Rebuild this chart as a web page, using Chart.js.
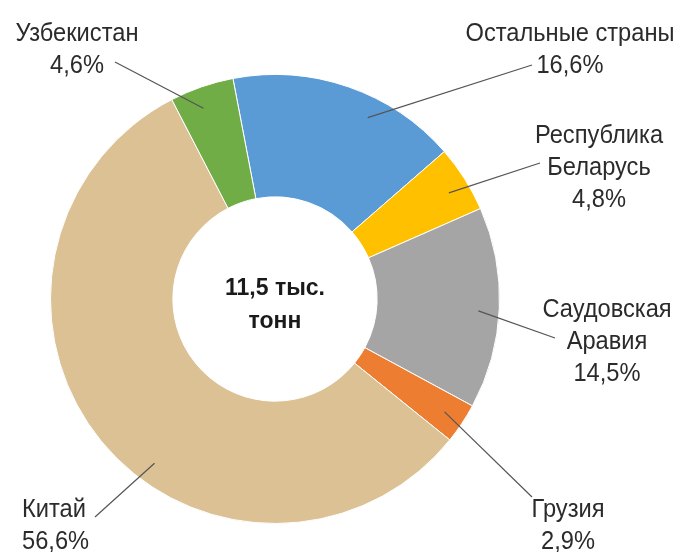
<!DOCTYPE html>
<html lang="ru">
<head>
    <meta charset="UTF-8">
    <title>Структура импорта</title>
    <script src="https://cdn.jsdelivr.net/npm/chart.js"></script>
    <style>
        html, body { margin: 0; padding: 0; background: #fff; }
        .my-box { width: 677px; height: 552px; }
    </style>
</head>
<body>
    <div class="my-box">
        <canvas id="importChart" width="677" height="552"></canvas>
    </div>
    <script>
    // данные (по часовой стрелке, начиная с верхнего сектора)
    const categories = ['Остальные страны', 'Республика\nБеларусь', 'Саудовская\nАравия', 'Грузия', 'Китай', 'Узбекистан'];
    const shares = [16.6, 4.8, 14.5, 2.9, 56.6, 4.6];
    const colors = ['#5B9BD5', '#FFC000', '#A5A5A5', '#ED7D31', '#DBC194', '#70AD47'];
    const centerLines = ['11,5 тыс.', 'тонн'];

    // размещение подписей: x, базовая линия, выравнивание, конец выноски, сдвиг угла выноски
    const labelPos = [
      { x: 570, y: 41,  align: 'center', end: [532, 65],  tweak: 8 },
      { x: 599, y: 143, align: 'center', end: [540, 163], tweak: 1 },
      { x: 607, y: 317, align: 'center', end: [555, 338], tweak: 1 },
      { x: 568, y: 517, align: 'center', end: [532, 497], tweak: 0 },
      { x: 22,  y: 517, align: 'left',   end: [95, 517],  tweak: -14.5 },
      { x: 77,  y: 41,  align: 'center', end: [115, 62],  tweak: -1.5 }
    ];

    const FONT = '"Liberation Sans Narrow", "Liberation Sans", Arial, sans-serif';

    const labelsPlugin = {
      id: 'calloutLabels',
      afterDatasetsDraw(chart) {
        const ctx = chart.ctx;
        const arcs = chart.getDatasetMeta(0).data;
        ctx.save();
        arcs.forEach((arc, i) => {
          const p = labelPos[i];
          const mid = (arc.startAngle + arc.endAngle) / 2 + p.tweak * Math.PI / 180;
          const r = arc.innerRadius + (arc.outerRadius - arc.innerRadius) * 0.83;
          const ix = arc.x + Math.cos(mid) * r;
          const iy = arc.y + Math.sin(mid) * r;
          ctx.strokeStyle = '#555';
          ctx.lineWidth = 1.2;
          ctx.beginPath();
          ctx.moveTo(p.end[0], p.end[1]);
          ctx.lineTo(ix, iy);
          ctx.stroke();

          const lines = categories[i].split('\n');
          lines.push(shares[i].toFixed(1).replace('.', ',') + '%');
          ctx.fillStyle = '#2b2b2b';
          ctx.font = '26px ' + FONT;
          ctx.textAlign = p.align;
          ctx.textBaseline = 'alphabetic';
          lines.forEach((t, k) => {
            ctx.save();
            ctx.translate(p.x, p.y + k * 32);
            ctx.scale(0.91, 1);   // узкий шрифт
            ctx.fillText(t, 0, 0);
            ctx.restore();
          });
        });

        // подпись в центре
        const a0 = arcs[0];
        ctx.fillStyle = '#1a1a1a';
        ctx.font = 'bold 23px "Liberation Sans", Arial, sans-serif';
        ctx.textAlign = 'center';
        ctx.fillText(centerLines[0], a0.x, a0.y - 4);
        ctx.fillText(centerLines[1], a0.x, a0.y + 29);
        ctx.restore();
      }
    };

    const ctx = document.getElementById('importChart').getContext('2d');
    new Chart(ctx, {
      type: 'doughnut',
      data: {
        labels: categories,
        datasets: [{
          data: shares,
          backgroundColor: colors,
          borderColor: '#ffffff',
          borderWidth: 1
        }]
      },
      options: {
        responsive: false,
        animation: false,
        rotation: -10.8,
        cutout: '45.5%',
        layout: { padding: { left: 50, right: 177, top: 74, bottom: 28 } },
        plugins: {
          legend: { display: false },
          tooltip: { enabled: false }
        }
      },
      plugins: [labelsPlugin]
    });
  </script>
</body>
</html>
